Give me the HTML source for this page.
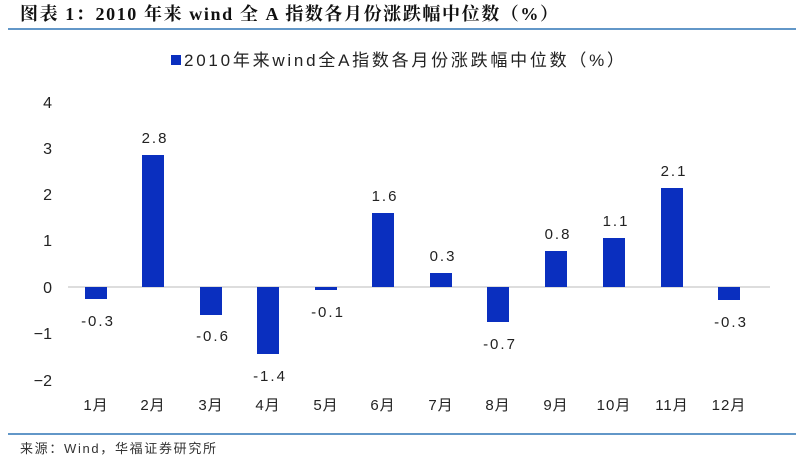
<!DOCTYPE html><html><head><meta charset="utf-8"><style>body{margin:0;background:#fff}svg text{font-family:"Liberation Sans","Noto Sans CJK SC",sans-serif}</style></head><body>
<svg width="803" height="460" viewBox="0 0 803 460" xmlns="http://www.w3.org/2000/svg">
<text x="20" y="20" font-size="18" font-weight="bold" style="font-family:'Liberation Serif','Noto Serif CJK SC',serif" fill="#111" textLength="538" lengthAdjust="spacing">图表 1：2010 年来 wind 全 A 指数各月份涨跌幅中位数（%）</text>
<line x1="8" y1="29" x2="796" y2="29" stroke="#2e75b6" stroke-width="1.5"/>
<rect x="171" y="55" width="10" height="10" fill="#0a2fbf"/>
<text x="184" y="66" font-size="17" fill="#222" textLength="440" lengthAdjust="spacing">2010年来wind全A指数各月份涨跌幅中位数（%）</text>
<g font-size="16" fill="#222" text-anchor="end">
<text x="52" y="108">4</text><text x="52" y="154">3</text><text x="52" y="200">2</text><text x="52" y="246">1</text><text x="52" y="293">0</text><text x="52" y="339">−1</text><text x="52" y="386">−2</text></g>
<line x1="68" y1="287" x2="770" y2="287" stroke="#bbb" stroke-width="1"/>
<g fill="#0a2fbf">
<rect x="85" y="287" width="22" height="12"/>
<rect x="142" y="155" width="22" height="132"/>
<rect x="200" y="287" width="22" height="28"/>
<rect x="257" y="287" width="22" height="67"/>
<rect x="315" y="287" width="22" height="3"/>
<rect x="372" y="213" width="22" height="74"/>
<rect x="430" y="273" width="22" height="14"/>
<rect x="487" y="287" width="22" height="35"/>
<rect x="545" y="251" width="22" height="36"/>
<rect x="603" y="238" width="22" height="49"/>
<rect x="661" y="188" width="22" height="99"/>
<rect x="718" y="287" width="22" height="13"/>
</g>
<g font-size="15" fill="#222" text-anchor="middle" letter-spacing="2">
<text x="98" y="326">-0.3</text><text x="155" y="143">2.8</text><text x="213" y="341">-0.6</text><text x="270" y="381">-1.4</text><text x="328" y="317">-0.1</text><text x="385" y="201">1.6</text><text x="443" y="261">0.3</text><text x="500" y="349">-0.7</text><text x="558" y="239">0.8</text><text x="616" y="226">1.1</text><text x="674" y="176">2.1</text><text x="731" y="327">-0.3</text></g>
<g font-size="15" fill="#222" text-anchor="middle" letter-spacing="1">
<text x="96" y="410">1月</text><text x="153" y="410">2月</text><text x="211" y="410">3月</text><text x="268" y="410">4月</text><text x="326" y="410">5月</text><text x="383" y="410">6月</text><text x="441" y="410">7月</text><text x="498" y="410">8月</text><text x="556" y="410">9月</text><text x="614" y="410">10月</text><text x="672" y="410">11月</text><text x="729" y="410">12月</text></g>
<line x1="8" y1="434" x2="796" y2="434" stroke="#2e75b6" stroke-width="1.5"/>
<text x="20" y="453" font-size="13" fill="#333" textLength="196" lengthAdjust="spacing">来源：Wind，华福证券研究所</text>
</svg></body></html>
